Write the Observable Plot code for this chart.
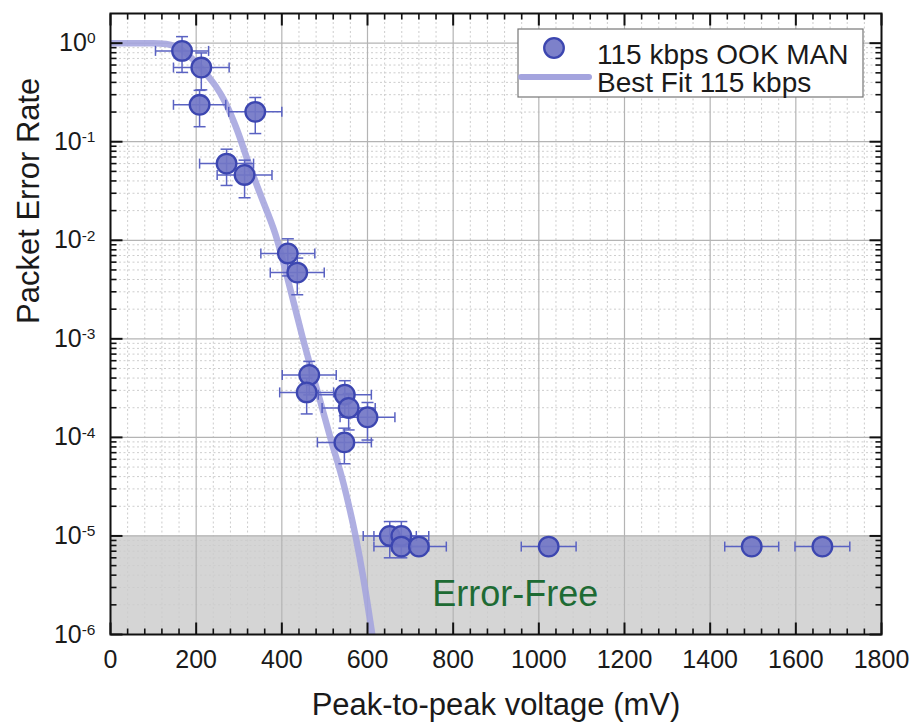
<!DOCTYPE html>
<html>
<head>
<meta charset="utf-8">
<script src="https://cdn.jsdelivr.net/npm/d3@7"></script>
<script src="https://cdn.jsdelivr.net/npm/@observablehq/plot@0.6"></script>
<style>
  body { margin: 0; background: white; }
  #chart { position: relative; width: 913px; height: 723px; }
</style>
</head>
<body>
<div id="chart"></div>
<script>
// ---- Measured data: 115 kbps OOK MAN ----
const voltage    = [167, 212, 208, 338, 271, 313, 414, 436, 464, 458, 547, 556, 600, 546, 652, 679, 679, 720, 1023, 1497, 1662];
const per        = [0.835, 0.566, 0.237, 0.201, 0.060, 0.046, 0.00735, 0.0047, 4.3e-4, 2.86e-4, 2.71e-4, 1.99e-4, 1.6e-4, 8.9e-5, 1.0e-5, 1.0e-5, 7.8e-6, 7.8e-6, 7.8e-6, 7.8e-6, 7.8e-6];
const voltageErr = [62, 65, 61, 62, 63, 64, 63, 63, 63, 63, 62, 62, 64, 63, 62, 64, 64, 64, 64, 63, 64];
const perErr     = [0.33, 0.23, 0.095, 0.08, 0.024, 0.019, 0.003, 0.0019, 1.6e-4, 1.13e-4, 1.05e-4, 8e-5, 6.6e-5, 3.5e-5, 4e-6, 4e-6, 0, 0, 0, 0, 0];

// ---- Best fit curve ----
const fitVoltage = [0, 100, 130, 150, 168, 190, 210, 230, 245, 266, 296, 320, 350, 385, 427, 448, 467, 490, 513, 544, 572, 590, 611];
const fitPer     = [1.0, 0.998, 0.98, 0.93, 0.84, 0.70, 0.57, 0.45, 0.37, 0.26, 0.13, 0.065, 0.029, 0.0115, 0.0024, 0.00105, 5.2e-4, 2.3e-4, 1e-4, 3.4e-5, 1e-5, 3.8e-6, 1e-6];

// ---- Error-free band ----
const errorFreeBand = [{x1: 0, x2: 1800, y1: 1e-6, y2: 1e-5}];
const errorFreeLabel = [{x: 945, y: 1.96e-6, text: "Error-Free"}];

// ---- Ticks ----
const xMajorTicks = [0, 200, 400, 600, 800, 1000, 1200, 1400, 1600, 1800];
const xMinorTicks = d3.range(40, 1800, 40).filter(v => v % 200 !== 0);
const yMajorTicks = [1e-6, 1e-5, 1e-4, 1e-3, 1e-2, 1e-1, 1];
const yMinorTicks = [];
for (let k = -6; k <= -1; k++) for (let m = 2; m <= 9; m++) yMinorTicks.push(+(m * Math.pow(10, k)).toPrecision(3));

const xLabel = "Peak-to-peak voltage (mV)";
const yLabel = "Packet Error Rate";
const seriesName = "115 kbps OOK MAN";
const fitName = "Best Fit 115 kbps";

const pointFill = "#7276c6";
const pointStroke = "#3c46b0";
const errColor = "#5a62c2";
const fitColor = "#a4a4de";

const idx = d3.range(voltage.length);
const idxY = idx.filter(i => perErr[i] > 0);

const seg = (dx, dy) => ({
  draw(ctx, size) {
    const r = Math.sqrt(size / Math.PI);
    ctx.moveTo(0, 0);
    ctx.lineTo(dx * r, dy * r);
  }
});
const bar = (dx, dy) => ({
  draw(ctx, size) {
    const r = Math.sqrt(size / Math.PI);
    ctx.moveTo(-dx * r, -dy * r);
    ctx.lineTo(dx * r, dy * r);
  }
});

const tickMarks = (vals, axis, anchor, sym, r, w) =>
  Plot.dot(vals, {[axis]: d => d, frameAnchor: anchor, symbol: sym, r, stroke: "#111", strokeWidth: w, fill: "none"});

const plot = Plot.plot({
  width: 913,
  height: 723,
  marginLeft: 110,
  marginRight: 32,
  marginTop: 13,
  marginBottom: 89,
  style: {fontFamily: "'Liberation Sans', Arial, sans-serif", background: "white", color: "#1a1a1a"},
  x: {domain: [0, 1800]},
  y: {type: "log", domain: [1e-6, 2]},
  marks: [
    Plot.rect(errorFreeBand, {x1: "x1", x2: "x2", y1: "y1", y2: "y2", fill: "#d5d5d5"}),
    Plot.ruleX(xMinorTicks, {stroke: "#cdcdcd", strokeWidth: 1, strokeDasharray: "2,2.5"}),
    Plot.ruleY(yMinorTicks, {stroke: "#cdcdcd", strokeWidth: 1, strokeDasharray: "2,2.5"}),
    Plot.ruleX(xMajorTicks, {stroke: "#b4b4b4", strokeWidth: 1.2}),
    Plot.ruleY(yMajorTicks, {stroke: "#b4b4b4", strokeWidth: 1.2}),
    Plot.line(fitVoltage.map((v, i) => ({v, p: fitPer[i]})), {
      x: "v", y: "p", stroke: fitColor, strokeWidth: 6.5, strokeOpacity: 0.88, curve: "monotone-x", clip: true
    }),
    // horizontal error bars
    Plot.link(idx, {x1: i => voltage[i] - voltageErr[i], x2: i => voltage[i] + voltageErr[i], y1: i => per[i], y2: i => per[i], stroke: errColor, strokeWidth: 1.5}),
    Plot.dot(idx, {x: i => voltage[i] - voltageErr[i], y: i => per[i], symbol: bar(0, 1), r: 5, stroke: errColor, strokeWidth: 1.5, fill: "none"}),
    Plot.dot(idx, {x: i => voltage[i] + voltageErr[i], y: i => per[i], symbol: bar(0, 1), r: 5, stroke: errColor, strokeWidth: 1.5, fill: "none"}),
    // vertical error bars
    Plot.link(idxY, {x1: i => voltage[i], x2: i => voltage[i], y1: i => per[i] - perErr[i], y2: i => per[i] + perErr[i], stroke: errColor, strokeWidth: 1.5}),
    Plot.dot(idxY, {x: i => voltage[i], y: i => per[i] - perErr[i], symbol: bar(1, 0), r: 6, stroke: errColor, strokeWidth: 1.5, fill: "none"}),
    Plot.dot(idxY, {x: i => voltage[i], y: i => per[i] + perErr[i], symbol: bar(1, 0), r: 6, stroke: errColor, strokeWidth: 1.5, fill: "none"}),
    // points
    Plot.dot(idx, {x: i => voltage[i], y: i => per[i], r: 9.8, fill: pointFill, fillOpacity: 0.92, stroke: pointStroke, strokeWidth: 2.3}),
    Plot.text(errorFreeLabel, {x: "x", y: "y", text: "text", fill: "#1e6b34", fontSize: 36, textAnchor: "middle", lineAnchor: "bottom"}),
    // inward ticks on all four sides
    tickMarks(xMajorTicks, "x", "bottom", seg(0, -1), 12, 2),
    tickMarks(xMinorTicks, "x", "bottom", seg(0, -1), 6, 1.6),
    tickMarks(xMajorTicks, "x", "top", seg(0, 1), 12, 2),
    tickMarks(xMinorTicks, "x", "top", seg(0, 1), 6, 1.6),
    tickMarks(yMajorTicks, "y", "left", seg(1, 0), 12, 2),
    tickMarks(yMinorTicks, "y", "left", seg(1, 0), 6, 1.6),
    tickMarks(yMajorTicks, "y", "right", seg(-1, 0), 12, 2),
    tickMarks(yMinorTicks, "y", "right", seg(-1, 0), 6, 1.6),
    Plot.frame({stroke: "#111", strokeWidth: 2}),
    Plot.axisX(xMajorTicks, {anchor: "bottom", tickSize: 0, tickPadding: 16, fontSize: 25, label: null,
      tickFormat: d => String(d)}),
    Plot.axisY(yMajorTicks, {anchor: "left", tickSize: 0, tickPadding: 15, fontSize: 25, label: null,
      tickFormat: d => String(Math.round(Math.log10(d)))}),
    Plot.text([xLabel], {text: d => d, frameAnchor: "bottom", dy: 80, lineAnchor: "bottom", fontSize: 31}),
    Plot.text([yLabel], {text: d => d, frameAnchor: "left", dx: -72, rotate: -90, lineAnchor: "bottom", fontSize: 31})
  ]
});

// superscript exponents on y tick labels
d3.select(plot).selectAll('g[aria-label="y-axis tick label"] text').each(function () {
  const t = d3.select(this);
  const e = t.text();
  t.text("");
  t.append("tspan").text("10");
  t.append("tspan").attr("dy", "-0.5em").attr("font-size", "0.62em").text(e);
});

// legend
const svg = d3.select(plot);
const lg = svg.append("g").attr("font-family", "'Liberation Sans', Arial, sans-serif").attr("text-anchor", "start");
lg.append("rect").attr("x", 518).attr("y", 29).attr("width", 345).attr("height", 68)
  .attr("fill", "white").attr("stroke", "#777").attr("stroke-width", 1.2);
lg.append("circle").attr("cx", 554).attr("cy", 48).attr("r", 9.8)
  .attr("fill", pointFill).attr("fill-opacity", 0.92).attr("stroke", pointStroke).attr("stroke-width", 2.3);
lg.append("line").attr("x1", 521).attr("x2", 589).attr("y1", 77).attr("y2", 77)
  .attr("stroke", fitColor).attr("stroke-width", 6).attr("stroke-linecap", "round");
lg.append("text").attr("x", 597).attr("y", 64).attr("font-size", 28).attr("fill", "#1a1a1a").text(seriesName);
lg.append("text").attr("x", 597).attr("y", 92).attr("font-size", 28).attr("fill", "#1a1a1a").text(fitName);

document.getElementById("chart").appendChild(plot);
</script>
</body>
</html>
